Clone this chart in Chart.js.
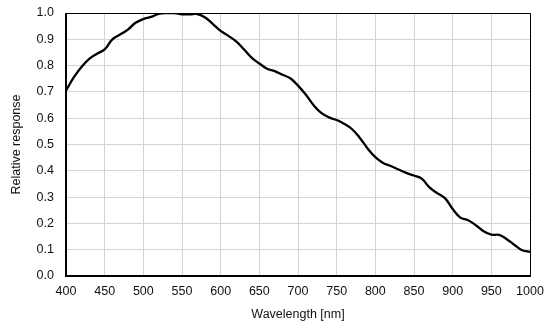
<!DOCTYPE html>
<html>
<head>
<meta charset="utf-8">
<script src="https://cdn.jsdelivr.net/npm/chart.js@4/dist/chart.umd.min.js"></script>
<style>
html,body{margin:0;padding:0;background:#fff;}
#wrap{width:554px;height:331px;position:relative;}
</style>
</head>
<body>
<div id="wrap"><canvas id="c" width="554" height="331"></canvas></div>
<script>
const wavelengths = [400,410,420,430,440,450,460,470,480,490,500,510,520,530,540,550,560,570,580,590,600,610,620,630,640,650,660,670,680,690,700,710,720,730,740,750,760,770,780,790,800,810,820,830,840,850,860,870,880,890,900,910,920,930,940,950,960,970,980,990,1000];
const response = [0.705,0.755,0.795,0.826,0.845,0.862,0.900,0.918,0.937,0.963,0.977,0.985,0.997,1.0,1.0,0.995,0.995,0.996,0.983,0.958,0.932,0.913,0.892,0.862,0.83,0.808,0.788,0.779,0.765,0.752,0.724,0.69,0.65,0.62,0.603,0.593,0.578,0.558,0.525,0.485,0.452,0.43,0.418,0.405,0.392,0.382,0.37,0.337,0.315,0.296,0.255,0.222,0.212,0.193,0.17,0.157,0.156,0.14,0.118,0.098,0.092];
const xTicks = [400,450,500,550,600,650,700,750,800,850,900,950,1000];
const yTicks = [0.0,0.1,0.2,0.3,0.4,0.5,0.6,0.7,0.8,0.9,1.0];
const xTitle = 'Wavelength [nm]';
const yTitle = 'Relative response';

const frame = {
  id: 'frame',
  afterDatasetsDraw(chart) {
    const a = chart.chartArea, ctx = chart.ctx;
    ctx.save();
    ctx.strokeStyle = '#000';
    ctx.lineWidth = 1;
    ctx.beginPath();
    ctx.moveTo(a.left, a.top + 0.5);
    ctx.lineTo(a.right + 0.5, a.top + 0.5);
    ctx.lineTo(a.right + 0.5, a.bottom);
    ctx.stroke();
    ctx.lineWidth = 2;
    ctx.beginPath();
    ctx.moveTo(a.left, a.top);
    ctx.lineTo(a.left, a.bottom);
    ctx.lineTo(a.right + 1, a.bottom);
    ctx.stroke();
    ctx.restore();
  }
};

const font = {family: '"Liberation Sans", Arial, sans-serif', size: 12.5};

new Chart(document.getElementById('c'), {
  type: 'line',
  data: {
    datasets: [{
      data: wavelengths.map((w, i) => ({x: w, y: response[i]})),
      borderColor: '#000',
      borderWidth: 2.3,
      pointRadius: 0,
      fill: false,
      tension: 0.4
    }]
  },
  options: {
    responsive: false,
    animation: false,
    events: [],
    layout: {padding: {left: 0, right: 24, top: 13, bottom: 0}},
    plugins: {legend: {display: false}, tooltip: {enabled: false}},
    scales: {
      x: {
        type: 'linear', min: 400, max: 1000,
        afterBuildTicks: s => { s.ticks = xTicks.map(v => ({value: v})); },
        afterFit: s => { s.height = 55; s.paddingLeft = 0; s.paddingRight = 0; },
        grid: {color: '#d4d4d4', lineWidth: 1, drawTicks: false},
        border: {display: false},
        ticks: {color: '#111', font, padding: 8, maxRotation: 0, autoSkip: false, callback: v => String(v)},
        title: {display: true, text: xTitle, color: '#111', font, padding: {top: 6, bottom: 9}}
      },
      y: {
        min: 0, max: 1,
        afterBuildTicks: s => { s.ticks = yTicks.map(v => ({value: v})); },
        afterFit: s => { s.width = 66; s.paddingTop = 0; s.paddingBottom = 0; },
        grid: {color: '#d4d4d4', lineWidth: 1, drawTicks: false},
        border: {display: false},
        ticks: {color: '#111', font, padding: 12, callback: v => v.toFixed(1)},
        title: {display: true, text: yTitle, color: '#111', font, padding: {top: 9, bottom: 4}}
      }
    }
  },
  plugins: [frame]
});
</script>
</body>
</html>
